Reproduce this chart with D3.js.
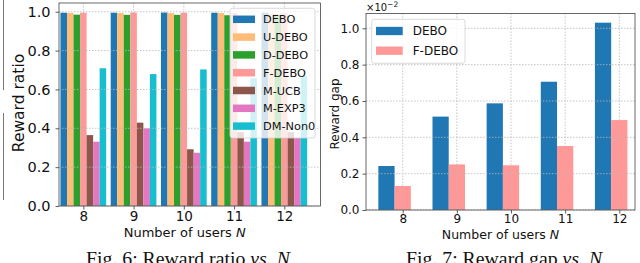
<!DOCTYPE html>
<html>
<head>
<meta charset="utf-8">
<script src="https://cdn.jsdelivr.net/npm/d3@7"></script>
<style>
  body { margin: 0; background: #fff; }
  svg { display: block; }
  text { font-family: "DejaVu Sans", sans-serif; fill: #111; }
</style>
</head>
<body>
<div id="chart"></div>
<script>
// Data
var users = [8, 9, 10, 11, 12];

// Fig. 6: reward ratio
var ratioSeries = ["DEBO", "U-DEBO", "D-DEBO", "F-DEBO", "M-UCB", "M-EXP3", "DM-Non0"];
var ratioColors = ["#1f77b4", "#ffbb78", "#2ca02c", "#ff9896", "#8c564b", "#e377c2", "#17becf"];
var debo    = [0.995, 0.995, 0.996, 0.995, 0.995];
var uDebo   = [0.994, 0.993, 0.993, 0.993, 0.993];
var dDebo   = [0.985, 0.984, 0.984, 0.982, 0.985];
var fDebo   = [0.995, 0.996, 0.995, 0.994, 0.994];
var mUcb    = [0.365, 0.429, 0.292, 0.38, 0.38];
var mExp3   = [0.331, 0.40, 0.274, 0.331, 0.35];
var dmNon0  = [0.709, 0.679, 0.703, 0.657, 0.669];
var ratioValues = [debo, uDebo, dDebo, fDebo, mUcb, mExp3, dmNon0];
var ratioTicks = [0, 0.2, 0.4, 0.6, 0.8, 1.0];

// Fig. 7: reward gap (x10^-2)
var gapSeries = ["DEBO", "F-DEBO"];
var gapColors = ["#1f77b4", "#ff9896"];
var gapDebo  = [0.242, 0.514, 0.587, 0.706, 1.031];
var gapFDebo = [0.132, 0.251, 0.246, 0.352, 0.495];
var gapValues = [gapDebo, gapFDebo];
var gapTicks = [0, 0.2, 0.4, 0.6, 0.8, 1.0];

var svg = d3.select("#chart").append("svg")
  .attr("width", 640)
  .attr("height", 263);

// stray frame of the neighbouring figure at the far left
svg.append("line").attr("x1", 3.5).attr("x2", 3.5).attr("y1", 0).attr("y2", 90)
  .attr("stroke", "#777").attr("stroke-width", 1);
svg.append("line").attr("x1", 3.5).attr("x2", 3.5).attr("y1", 113).attr("y2", 200)
  .attr("stroke", "#777").attr("stroke-width", 1);

function drawChart(cfg) {
  var x = d3.scaleLinear().domain(cfg.xDomain).range([cfg.left, cfg.right]);
  var y = d3.scaleLinear().domain(cfg.yDomain).range([cfg.bottom, cfg.top]);
  var g = svg.append("g");
  var bw = x(cfg.barWidth) - x(0);

  // bars
  cfg.values.forEach(function(vals, i) {
    g.selectAll(null)
      .data(users.map(function(u, j) { return { u: u, v: vals[j] }; }))
      .enter().append("rect")
      .attr("x", function(d) { return x(d.u + cfg.offset(i)) - bw / 2; })
      .attr("y", function(d) { return y(d.v); })
      .attr("width", bw)
      .attr("height", function(d) { return y(0) - y(d.v); })
      .attr("fill", cfg.colors[i]);
  });

  // grid on top of bars
  var grid = g.append("g").attr("stroke", "#b8b8b8").attr("stroke-width", 0.8)
    .attr("stroke-dasharray", "1.5,1.5");
  users.forEach(function(u) {
    grid.append("line").attr("x1", x(u)).attr("x2", x(u))
      .attr("y1", cfg.top).attr("y2", cfg.bottom);
  });
  cfg.yTicks.forEach(function(t) {
    grid.append("line").attr("x1", cfg.left).attr("x2", cfg.right)
      .attr("y1", y(t)).attr("y2", y(t));
  });

  // axes
  var xAxis = g.append("g")
    .attr("transform", "translate(0," + cfg.bottom + ")")
    .call(d3.axisBottom(x).tickValues(users).tickSize(3.5).tickPadding(cfg.xPad).tickFormat(d3.format("d")));
  var yAxis = g.append("g")
    .attr("transform", "translate(" + cfg.left + ",0)")
    .call(d3.axisLeft(y).tickValues(cfg.yTicks).tickSize(3.5).tickPadding(cfg.yPad).tickFormat(d3.format(".1f")));
  [xAxis, yAxis].forEach(function(a) {
    a.select(".domain").remove();
    a.selectAll("line").attr("stroke", "#333").attr("stroke-width", 0.8);
    a.selectAll("text").attr("fill", "#111");
  });
  xAxis.selectAll("text").style("font-size", cfg.xTickFont + "px");
  yAxis.selectAll("text").style("font-size", cfg.yTickFont + "px");

  // frame
  g.append("rect").attr("x", cfg.left).attr("y", cfg.top)
    .attr("width", cfg.right - cfg.left).attr("height", cfg.bottom - cfg.top)
    .attr("fill", "none").attr("stroke", "#444").attr("stroke-width", 0.8);

  // axis labels
  var xl = g.append("text")
    .attr("x", (cfg.left + cfg.right) / 2 + cfg.xLabelShift)
    .attr("y", cfg.xLabelY)
    .attr("text-anchor", "middle")
    .style("font-size", cfg.xLabelFont + "px");
  xl.append("tspan").text("Number of users ");
  xl.append("tspan").attr("font-style", "italic").text("N");

  g.append("text")
    .attr("transform", "translate(" + cfg.yLabelX + "," + cfg.yLabelY + ") rotate(-90)")
    .attr("text-anchor", "middle")
    .style("font-size", cfg.yLabelFont + "px")
    .text(cfg.yLabel);

  // legend
  var lg = g.append("g").attr("transform", "translate(" + cfg.legend.x + "," + cfg.legend.y + ")");
  lg.append("rect").attr("width", cfg.legend.w).attr("height", cfg.legend.h)
    .attr("rx", 2.5).attr("fill", "#fff").attr("fill-opacity", 0.8)
    .attr("stroke", "#d0d0d0").attr("stroke-width", 0.8);
  cfg.series.forEach(function(s, i) {
    var cy = cfg.legend.first + i * cfg.legend.step;
    lg.append("rect").attr("x", cfg.legend.px).attr("y", cy - cfg.legend.ph / 2)
      .attr("width", cfg.legend.pw).attr("height", cfg.legend.ph)
      .attr("fill", cfg.colors[i]);
    lg.append("text").attr("x", cfg.legend.tx).attr("y", cy)
      .attr("dy", "0.36em")
      .style("font-size", cfg.legend.font + "px")
      .text(s);
  });

  // caption (cut by the bottom edge, as in the source)
  var cap = svg.append("text")
    .attr("x", cfg.capX).attr("y", 265)
    .style("font-family", "'Liberation Serif', 'Times New Roman', serif")
    .style("font-size", "19.8px");
  cap.append("tspan").text(cfg.caption);
  cap.append("tspan").attr("font-style", "italic").text(" vs.");
  cap.append("tspan").text(" ");
  cap.append("tspan").attr("font-style", "italic").text("N");
  return { x: x, y: y };
}

drawChart({
  left: 59, right: 320.5, top: 3, bottom: 206,
  xDomain: [7.516, 12.72], yDomain: [0, 1.045],
  values: ratioValues, colors: ratioColors, series: ratioSeries,
  barWidth: 0.13, offset: function(i) { return (i - 3) * 0.13; },
  yTicks: ratioTicks, xTickFont: 13.5, yTickFont: 14.5, xPad: 2, yPad: 5,
  xLabelFont: 13, yLabelFont: 15.5,
  xLabelShift: -5, xLabelY: 236.5, yLabel: "Reward ratio", yLabelX: 24, yLabelY: 103,
  legend: { x: 230, y: 8.3, w: 85, h: 129.7, first: 11, step: 17.8,
            px: 3, pw: 22, ph: 7.5, tx: 33, font: 11.3 },
  caption: "Fig. 6: Reward ratio", capX: 86
});

drawChart({
  left: 366, right: 635, top: 13.5, bottom: 210,
  xDomain: [7.322, 12.29], yDomain: [0, 1.0815],
  values: gapValues, colors: gapColors, series: gapSeries,
  barWidth: 0.3, offset: function(i) { return (i - 1) * 0.3; },
  yTicks: gapTicks, xTickFont: 12, yTickFont: 12, xPad: 1, yPad: 3,
  xLabelFont: 12.5, yLabelFont: 12,
  xLabelShift: 0, xLabelY: 238.5, yLabel: "Reward gap", yLabelX: 338.5, yLabelY: 114,
  legend: { x: 371.7, y: 19.3, w: 93.3, h: 44, first: 11.7, step: 19.7,
            px: 4.3, pw: 26.7, ph: 8.3, tx: 41, font: 12 },
  caption: "Fig. 7: Reward gap", capX: 406
});

// axis multiplier for the gap plot
var mult = svg.append("text").attr("x", 366).attr("y", 10.5).style("font-size", "10px");
mult.append("tspan").text("\u00d710");
mult.append("tspan").attr("dy", -3.5).style("font-size", "7.5px").text("\u22122");
</script>
</body>
</html>
